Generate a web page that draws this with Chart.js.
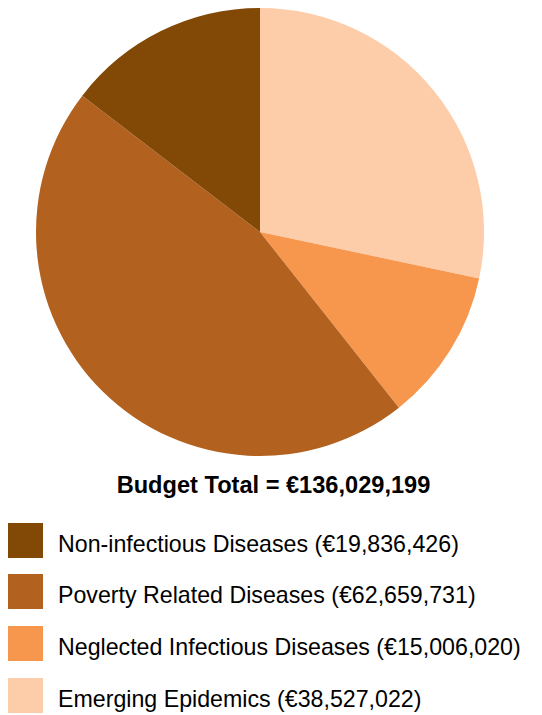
<!DOCTYPE html>
<html><head><meta charset="utf-8">
<script src="https://cdn.jsdelivr.net/npm/chart.js@4/dist/chart.umd.min.js"></script>
<style>
html,body{margin:0;padding:0;background:#fff;width:542px;height:715px;overflow:hidden;font-family:"Liberation Sans",Arial,Helvetica,sans-serif;}
#wrap{position:absolute;left:0;top:0;width:542px;height:470px;}
#title{position:absolute;left:0;width:542px;text-align:center;top:472px;font-weight:bold;font-size:23.6px;line-height:26px;color:#000;padding-left:5px;box-sizing:border-box;}
.item{position:absolute;left:8px;height:35px;display:flex;align-items:center;}
.box{width:35px;height:35px;margin-right:15px;flex:none;}
.lab{font-size:23.2px;line-height:26px;color:#000;white-space:nowrap;position:relative;top:3px;}
</style></head><body>
<div id="wrap"><canvas id="c"></canvas></div>
<div id="title"></div>
<div id="legend"></div>
<script>
const categories = ["Emerging Epidemics","Neglected Infectious Diseases","Poverty Related Diseases","Non-infectious Diseases"];
const values = [38527022, 15006020, 62659731, 19836426];
const colors = ["#FDCCA8","#F7964D","#B2621E","#824805"];
const legendOrder = [3,2,1,0];
const total = values.reduce((a,b)=>a+b,0);
const fmt = v => "\u20AC" + v.toLocaleString("en-US");

document.getElementById("title").textContent = "Budget Total = " + fmt(total);
const lg = document.getElementById("legend");
const tops = [523, 574, 626, 678];
legendOrder.forEach((idx,i)=>{
  const d=document.createElement("div");d.className="item";d.style.top=tops[i]+"px";
  d.innerHTML='<div class="box" style="background:'+colors[idx]+'"></div><div class="lab"></div>';
  d.querySelector(".lab").textContent = categories[idx]+" ("+fmt(values[idx])+")";
  lg.appendChild(d);
});

new Chart(document.getElementById("c"),{
  type:"pie",
  data:{labels:categories,datasets:[{data:values,backgroundColor:colors,borderWidth:0}]},
  options:{
    responsive:true,maintainAspectRatio:false,animation:false,
    layout:{padding:{left:0,right:22,top:8,bottom:14}},
    plugins:{legend:{display:false},tooltip:{enabled:false}}
  }
});
</script>
</body></html>
